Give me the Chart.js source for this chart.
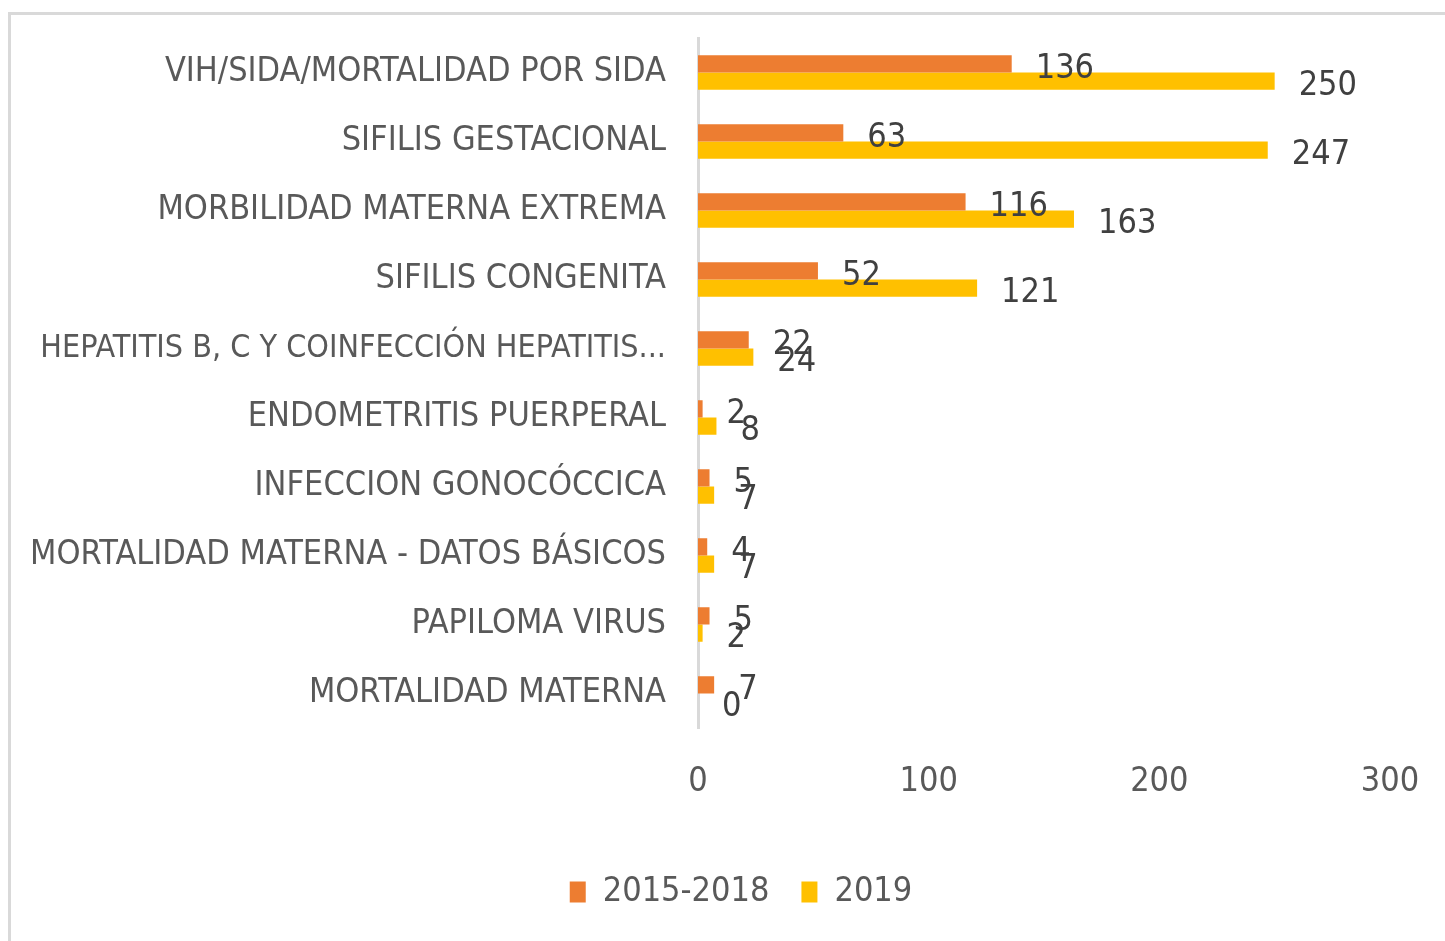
<!DOCTYPE html>
<html>
<head>
<meta charset="utf-8">
<script src="https://cdn.jsdelivr.net/npm/chart.js@4/dist/chart.umd.min.js"></script>
<style>
    html, body { margin: 0; padding: 0; background: #ffffff; overflow: hidden; }
    #frame {
        position: absolute; left: 8px; top: 12px;
        width: 1460px; height: 960px;
        border: 3px solid #d9d9d9; box-sizing: border-box;
    }
    #chartBox { position: absolute; left: 0; top: 0; width: 1445px; height: 941px; }
</style>
</head>
<body>
<div id="frame"></div>
<div id="chartBox"><canvas id="eventosChart" width="1445" height="941"></canvas></div>
<script>
// ============================================================
// DATOS
// ============================================================
const categorias = [
    "VIH/SIDA/MORTALIDAD POR SIDA",
    "SIFILIS GESTACIONAL",
    "MORBILIDAD MATERNA EXTREMA",
    "SIFILIS CONGENITA",
    "HEPATITIS B, C Y COINFECCIÓN HEPATITIS...",
    "ENDOMETRITIS PUERPERAL",
    "INFECCION GONOCÓCCICA",
    "MORTALIDAD MATERNA - DATOS BÁSICOS",
    "PAPILOMA VIRUS",
    "MORTALIDAD MATERNA"
];
const periodo2015_2018 = [136, 63, 116, 52, 22, 2, 5, 4, 5, 7];
const periodo2019 = [250, 247, 163, 121, 24, 8, 7, 7, 2, 0];
const seriesNombres = ["2015-2018", "2019"];
const ejeTicks = [0, 100, 200, 300];

const FONT = "'Liberation Sans Narrow', 'DejaVu Sans Condensed', 'Liberation Sans', sans-serif";
const TEXT_COLOR = "#595959";

// etiquetas de valor al final de cada barra
const barValueLabels = {
    id: "barValueLabels",
    afterDatasetsDraw(chart) {
        const ctx = chart.ctx;
        ctx.save();
        ctx.font = "34px " + FONT;
        ctx.fillStyle = "#404040";
        ctx.textAlign = "left";
        ctx.textBaseline = "middle";
        chart.data.datasets.forEach((ds, i) => {
            chart.getDatasetMeta(i).data.forEach((bar, j) => {
                ctx.fillText(String(ds.data[j]), bar.x + 24, bar.y + 5);
            });
        });
        ctx.restore();
    }
};

// la leyenda de Excel queda centrada un poco a la derecha
const legendShift = {
    id: "legendShift",
    afterLayout(chart) {
        if (chart.legend) {
            chart.legend.left += 46;
            chart.legend.right += 46;
        }
    }
};

const canvas = document.getElementById("eventosChart");

new Chart(canvas, {
    type: "bar",
    data: {
        labels: categorias,
        datasets: [
            {
                label: seriesNombres[0],
                data: periodo2015_2018,
                backgroundColor: "#ed7d31",
                categoryPercentage: 0.5,
                barPercentage: 1.0
            },
            {
                label: seriesNombres[1],
                data: periodo2019,
                backgroundColor: "#ffc000",
                categoryPercentage: 0.5,
                barPercentage: 1.0
            }
        ]
    },
    options: {
        indexAxis: "y",
        responsive: false,
        animation: false,
        devicePixelRatio: 1,
        layout: { padding: { top: 38, right: 55, bottom: 22, left: 0 } },
        scales: {
            x: {
                min: 0,
                max: 300,
                afterBuildTicks(scale) {
                    scale.ticks = ejeTicks.map(v => ({ value: v }));
                },
                afterFit(scale) {
                    scale.height = 115;
                    scale.paddingLeft = 0;
                    scale.paddingRight = 0;
                },
                grid: { display: false, drawTicks: false },
                border: { display: false },
                ticks: {
                    padding: 34,
                    color: TEXT_COLOR,
                    font: { family: FONT, size: 34 }
                }
            },
            y: {
                afterFit(scale) {
                    scale.width = 698;
                    scale.paddingTop = 0;
                    scale.paddingBottom = 0;
                },
                grid: { display: false, drawTicks: false },
                border: { display: true, color: "#d9d9d9", width: 3 },
                ticks: {
                    padding: 32,
                    color: TEXT_COLOR,
                    autoSkip: false,
                    font: (c) => ({ family: FONT, size: c.index === 4 ? 32 : 34 })
                }
            }
        },
        plugins: {
            legend: {
                position: "bottom",
                labels: {
                    boxWidth: 16,
                    boxHeight: 21,
                    padding: 32,
                    color: TEXT_COLOR,
                    font: { family: FONT, size: 34 }
                }
            },
            tooltip: { enabled: false }
        }
    },
    plugins: [barValueLabels, legendShift]
});
</script>
</body>
</html>
